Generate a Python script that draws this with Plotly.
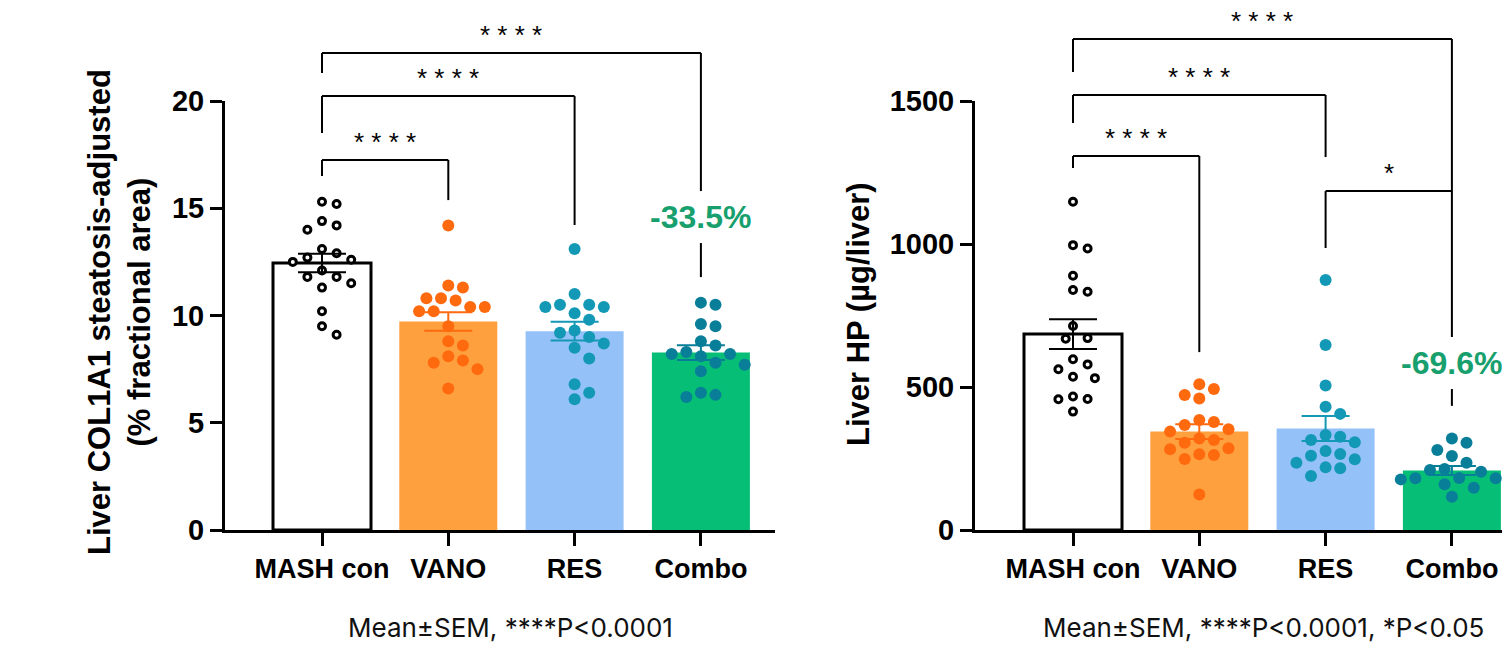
import plotly.graph_objects as go

W, H = 1502, 645

categories = ["MASH con", "VANO", "RES", "Combo"]

# ---- Panel 1: Liver COL1A1 steatosis-adjusted (% fractional area)
col1a1_mash = [15.3, 15.2, 14.4, 14.2, 14.0, 13.1, 12.9, 12.7, 12.6, 12.5, 12.1, 11.8, 11.8, 11.5, 11.3, 10.2, 9.5, 9.1]
col1a1_vano = [14.2, 11.3, 11.4, 10.7, 10.8, 10.8, 10.4, 10.4, 10.2, 10.2, 9.5, 8.6, 8.8, 8.1, 7.8, 7.9, 7.5, 6.6]
col1a1_res = [13.1, 11.0, 10.5, 10.4, 10.5, 10.4, 10.1, 9.8, 9.3, 9.0, 9.2, 8.5, 8.7, 8.0, 6.8, 6.4, 6.1]
col1a1_combo = [10.5, 10.6, 9.6, 9.5, 8.8, 8.6, 8.2, 8.3, 8.1, 8.2, 7.8, 7.7, 7.4, 6.2, 6.4, 6.3]
col1a1_mean = [12.45, 9.72, 9.27, 8.27]
col1a1_sem = [0.43, 0.43, 0.44, 0.34]
col1a1_ticks = [0, 5, 10, 15, 20]

# ---- Panel 2: Liver HP (µg/liver)
hp_mash = [1148, 996, 984, 889, 833, 839, 713, 669, 671, 597, 562, 579, 536, 531, 467, 457, 458, 414]
hp_vano = [493, 510, 460, 472, 367, 385, 378, 344, 352, 320, 315, 305, 282, 286, 265, 262, 248, 124]
hp_res = [874, 647, 505, 431, 406, 326, 307, 315, 332, 260, 266, 276, 219, 235, 247, 216, 189]
hp_combo = [320, 305, 280, 259, 235, 213, 204, 210, 181, 171, 181, 182, 177, 160, 148, 116]
hp_mean = [685, 344, 355, 208]
hp_sem = [52, 26, 44, 16]
hp_ticks = [0, 500, 1000, 1500]

# comparisons: (group a, group b, bracket level, left leg end, right leg end, label)
col1a1_brackets = [
    (0, 1, 17.25, 16.50, 15.38, "* * * *"),
    (0, 2, 20.23, 18.51, 14.22, "* * * *"),
    (0, 3, 22.24, 21.31, 11.79, "* * * *"),
]
hp_brackets = [
    (0, 1, 1308, 1266, 622, "* * * *"),
    (0, 2, 1521, 1423, 1304, "* * * *"),
    (0, 3, 1717, 1601, 434, "* * * *"),
    (2, 3, 1185, 986, 1185, "*"),
]
col1a1_pct = ("-33.5%", 14.59)
hp_pct = ("-69.6%", 584)

footnote_left = "Mean±SEM, ****P<0.0001"
footnote_right = "Mean±SEM, ****P<0.0001, *P<0.05"

# ---- styles
bar_fill = ["white", "#FFA03F", "#94C1F8", "#06BE76"]
bar_line_w = [3, 0, 0, 0]
dot_color = ["black", "#FF6A0F", "#1399B6", "#097E99"]
pct_color = "#17A06E"
BOLD = "Liberation Sans"

# geometry (pixels)
Y0_PX, YTOP_PX = 530, 101
CAT_PX = 126.3
panels = [
    dict(xa="x", ya="y", xl=225, xr=775, c0=322, ymax=20, ticks=col1a1_ticks,
         groups=[col1a1_mash, col1a1_vano, col1a1_res, col1a1_combo],
         mean=col1a1_mean, sem=col1a1_sem, brackets=col1a1_brackets, pct=col1a1_pct,
         title="Liver COL1A1 steatosis-adjusted<br>(% fractional area)", title_x=119, title_y=312,
         foot=footnote_left, foot_x=510),
    dict(xa="x2", ya="y2", xl=975, xr=1502, c0=1073, ymax=1500, ticks=hp_ticks,
         groups=[hp_mash, hp_vano, hp_res, hp_combo],
         mean=hp_mean, sem=hp_sem, brackets=hp_brackets, pct=hp_pct,
         title="Liver HP (µg/liver)", title_x=858, title_y=314,
         foot=footnote_right, foot_x=1263),
]

ydom = [1 - Y0_PX / H, 1 - YTOP_PX / H]


def beeswarm(values, ypx_per_unit, d=14.6):
    order = sorted(range(len(values)), key=lambda i: -values[i])
    placed = []
    offs = [0.0] * len(values)
    step = d / 2
    cands = [0.0]
    for j in range(1, 12):
        cands += [step * j, -step * j]
    for i in order:
        y = values[i] * ypx_per_unit
        for c in cands:
            if all((c - px) ** 2 + (y - py) ** 2 >= (0.97 * d) ** 2 for px, py in placed):
                break
        placed.append((c, y))
        offs[i] = c / CAT_PX
    return offs


fig = go.Figure()
shapes = []
annotations = []
layout_axes = {}

for k, p in enumerate(panels):
    xa, ya = p["xa"], p["ya"]
    ymax = p["ymax"]
    ypx = (Y0_PX - YTOP_PX) / ymax
    r0 = (p["xl"] - p["c0"]) / CAT_PX
    r1 = r0 + (p["xr"] - p["xl"]) / CAT_PX
    xs = list(range(len(categories)))

    def yp(v, ymax=ymax):
        return ydom[0] + v / ymax * (ydom[1] - ydom[0])

    def px2v(pxs, ypx=ypx):
        return pxs / ypx

    fig.add_trace(go.Bar(
        x=xs, y=p["mean"], xaxis=xa, yaxis=ya, width=98 / CAT_PX,
        marker=dict(color=bar_fill, line=dict(color="black", width=bar_line_w)),
        showlegend=False, hoverinfo="skip"))

    for g, vals in enumerate(p["groups"]):
        offs = beeswarm(vals, ypx)
        if g == 0:
            mk = dict(symbol="circle", size=7, color="white", line=dict(color="black", width=3))
        else:
            mk = dict(symbol="circle", size=12, color=dot_color[g], line=dict(width=0))
        fig.add_trace(go.Scatter(
            x=[g + o for o in offs], y=vals, mode="markers", xaxis=xa, yaxis=ya,
            marker=mk, showlegend=False, hoverinfo="skip"))

    for g in range(len(categories)):
        fig.add_trace(go.Scatter(
            x=[g], y=[p["mean"][g]], mode="markers", xaxis=xa, yaxis=ya,
            marker=dict(size=1, opacity=0),
            error_y=dict(type="data", array=[p["sem"][g]], color=dot_color[g],
                         thickness=2, width=24),
            showlegend=False, hoverinfo="skip"))

    # brackets
    pct_text, pct_v = p["pct"]
    gap = px2v(26)
    for a, b, lev, lend, rend, lab in p["brackets"]:
        line = dict(color="black", width=2)
        shapes.append(dict(type="line", xref=xa, yref="paper", x0=a, x1=b, y0=yp(lev), y1=yp(lev), line=line))
        shapes.append(dict(type="line", xref=xa, yref="paper", x0=a, x1=a, y0=yp(lev), y1=yp(lend), line=line))
        if b == 3 and a == 0:
            shapes.append(dict(type="line", xref=xa, yref="paper", x0=b, x1=b,
                               y0=yp(lev), y1=yp(pct_v + gap), line=line))
            shapes.append(dict(type="line", xref=xa, yref="paper", x0=b, x1=b,
                               y0=yp(pct_v - gap), y1=yp(rend), line=line))
        else:
            shapes.append(dict(type="line", xref=xa, yref="paper", x0=b, x1=b, y0=yp(lev), y1=yp(rend), line=line))
        annotations.append(dict(text=lab, xref=xa, yref="paper", x=(a + b) / 2, y=yp(lev),
                                yanchor="middle", xanchor="center", yshift=18, showarrow=False,
                                font=dict(family=BOLD, size=26, color="black")))

    annotations.append(dict(text=pct_text, xref=xa, yref="paper", x=3, y=yp(pct_v),
                            xanchor="center", yanchor="middle", showarrow=False,
                            font=dict(family=BOLD, size=32, color=pct_color, weight=700)))
    annotations.append(dict(text=p["title"], xref="paper", yref="paper", x=p["title_x"] / W,
                            y=1 - p["title_y"] / H, textangle=-90, showarrow=False,
                            xanchor="center", yanchor="middle",
                            font=dict(family=BOLD, size=31, color="black", weight=700)))
    annotations.append(dict(text=p["foot"], xref="paper", yref="paper", x=p["foot_x"] / W,
                            y=0, showarrow=False, xanchor="center", yanchor="bottom",
                            font=dict(family="Inter", size=26, color="#111111")))

    xkey = "xaxis" if k == 0 else "xaxis2"
    ykey = "yaxis" if k == 0 else "yaxis2"
    layout_axes[xkey] = dict(
        domain=[p["xl"] / W, p["xr"] / W], range=[r0, r1], anchor=ya, automargin=False,
        tickvals=xs, ticktext=categories, showline=True, linewidth=3, linecolor="black",
        ticks="outside", ticklen=13, tickwidth=3, tickcolor="black",
        tickfont=dict(family=BOLD, size=27, color="black", weight=700),
        showgrid=False, zeroline=False, fixedrange=True)
    layout_axes[ykey] = dict(
        domain=ydom, range=[0, ymax], anchor=xa, tickvals=p["ticks"], automargin=False,
        showline=True, linewidth=3, linecolor="black",
        ticks="outside", ticklen=12, tickwidth=3, tickcolor="black",
        tickfont=dict(family=BOLD, size=29, color="black", weight=700),
        showgrid=False, zeroline=False, fixedrange=True)

fig.update_layout(
    width=W, height=H, margin=dict(l=0, r=0, t=0, b=0, pad=0, autoexpand=False),
    paper_bgcolor="white", plot_bgcolor="white",
    shapes=shapes, annotations=annotations, showlegend=False,
    **layout_axes)

fig.write_html(
    "out.html",
    config={"displayModeBar": False, "responsive": False},
    post_script="document.body.style.margin='0';document.body.style.overflow='hidden';",
)
